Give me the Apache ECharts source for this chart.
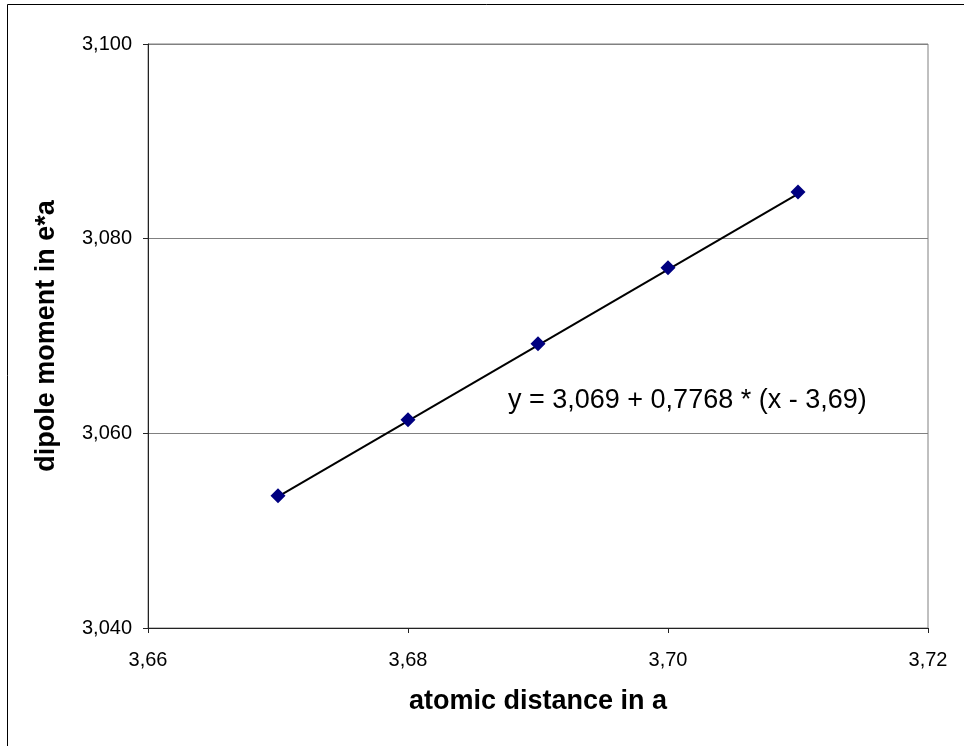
<!DOCTYPE html>
<html><head><meta charset="utf-8">
<script src="https://cdn.jsdelivr.net/npm/echarts@6/dist/echarts.min.js"></script>
<style>html,body{margin:0;padding:0;background:#fff}#c{width:964px;height:746px}</style>
</head><body><div id="c"></div>
<script>
const xValues = [3.67, 3.68, 3.69, 3.70, 3.71];
const yValues = [3.0536, 3.0614, 3.0692, 3.0770, 3.0848];
const fitX = [3.67, 3.71];
const fitY = [3.0535, 3.0846];
const xTicks = [3.66, 3.68, 3.70, 3.72];
const yTicks = [3.040, 3.060, 3.080, 3.100];
const equationText = 'y = 3,069 + 0,7768 * (x - 3,69)';
const xTitle = 'atomic distance in a';
const yTitle = 'dipole moment in e*a';

const font = '"Liberation Sans", Arial, sans-serif';
const chart = echarts.init(document.getElementById('c'), null, {renderer: 'canvas'});
chart.setOption({
  animation: false,
  backgroundColor: '#fff',
  grid: {left: 148, right: 36, top: 44, bottom: 118, show: true, borderColor: '#808080', borderWidth: 1},
  xAxis: {
    type: 'value', min: xTicks[0], max: xTicks[xTicks.length - 1], interval: 0.02,
    axisLine: {show: true, onZero: false, lineStyle: {color: '#222', width: 1}},
    axisTick: {show: true, inside: false, length: 5, lineStyle: {color: '#222'}},
    axisLabel: {margin: 22, fontFamily: font, fontSize: 20, color: '#000',
      formatter: v => v.toFixed(2).replace('.', ',')},
    splitLine: {show: false},
    name: xTitle, nameLocation: 'middle', nameGap: 60,
    nameTextStyle: {fontFamily: font, fontSize: 27, fontWeight: 'bold', color: '#000'}
  },
  yAxis: {
    type: 'value', min: yTicks[0], max: yTicks[yTicks.length - 1], interval: 0.02,
    axisLine: {show: true, onZero: false, lineStyle: {color: '#222', width: 1}},
    axisTick: {show: true, inside: false, length: 5, lineStyle: {color: '#222'}},
    axisLabel: {margin: 16, fontFamily: font, fontSize: 20, color: '#000',
      formatter: v => v.toFixed(3).replace('.', ',')},
    splitLine: {show: true, lineStyle: {color: '#808080', width: 1}},
    name: yTitle, nameLocation: 'middle', nameGap: 88, nameRotate: 90,
    nameTextStyle: {fontFamily: font, fontSize: 27, fontWeight: 'bold', color: '#000'}
  },
  series: [
    {
      type: 'line', data: fitX.map((x, i) => [x, fitY[i]]),
      showSymbol: false, symbol: 'none', lineStyle: {color: '#000', width: 2}, z: 2
    },
    {
      type: 'scatter', data: xValues.map((x, i) => [x, yValues[i]]),
      symbol: 'diamond', symbolSize: [15, 15], itemStyle: {color: '#000080', opacity: 1}, z: 3
    }
  ],
  graphic: [
    {type: 'rect', shape: {x: 7.5, y: 4.5, width: 1000, height: 800}, style: {fill: 'none', stroke: '#000', lineWidth: 1}, silent: true},
    {type: 'text', x: 508, y: 401, style: {text: equationText, font: '27px ' + font, fill: '#000', verticalAlign: 'middle', align: 'left'}}
  ]
});
</script></body></html>
